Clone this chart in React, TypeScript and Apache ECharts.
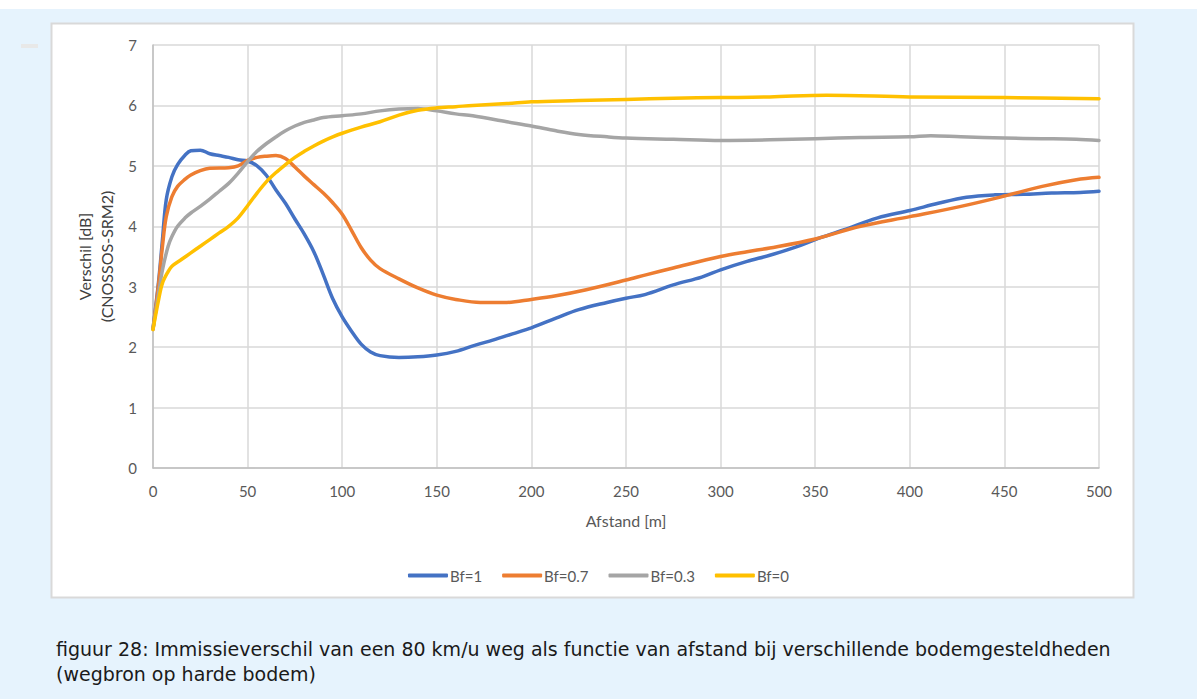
import React, { useEffect, useRef } from "react";
import * as echarts from "echarts";

// Distance (m) and level difference (dB) for each ground factor
const bf1X = [0, 3, 5, 7, 10, 13, 17, 20, 25, 30, 35, 40, 45, 50, 55, 60, 65, 70, 75, 80, 85, 90, 95, 100, 105, 110, 115, 120, 130, 140, 150, 160, 170, 180, 190, 200, 213, 225, 240, 250, 260, 275, 290, 300, 314, 326, 340, 350, 365, 383, 400, 415, 430, 445, 460, 475, 490, 500];
const bf1Y = [2.3, 3.1, 3.78, 4.44, 4.82, 5.02, 5.18, 5.25, 5.26, 5.2, 5.17, 5.14, 5.1, 5.08, 5.0, 4.84, 4.6, 4.38, 4.12, 3.87, 3.58, 3.2, 2.8, 2.5, 2.26, 2.05, 1.92, 1.86, 1.83, 1.84, 1.87, 1.93, 2.03, 2.12, 2.22, 2.32, 2.48, 2.62, 2.74, 2.81, 2.87, 3.03, 3.16, 3.28, 3.42, 3.52, 3.66, 3.78, 3.94, 4.14, 4.26, 4.38, 4.48, 4.52, 4.53, 4.55, 4.56, 4.58];

const bf07X = [0, 3, 5, 7, 10, 13, 17, 20, 25, 30, 40, 45, 50, 55, 60, 65, 70, 75, 80, 85, 90, 95, 100, 105, 110, 115, 120, 130, 140, 150, 160, 173, 187, 200, 213, 229, 250, 261, 275, 300, 314, 326, 350, 374, 400, 427, 450, 470, 488, 500];
const bf07Y = [2.3, 3.06, 3.67, 4.16, 4.49, 4.66, 4.78, 4.85, 4.92, 4.96, 4.97, 5.0, 5.09, 5.14, 5.16, 5.17, 5.12, 4.98, 4.83, 4.69, 4.55, 4.39, 4.2, 3.93, 3.65, 3.44, 3.3, 3.13, 2.98, 2.86, 2.79, 2.74, 2.74, 2.79, 2.85, 2.95, 3.11, 3.2, 3.31, 3.5, 3.58, 3.64, 3.79, 4.0, 4.16, 4.33, 4.5, 4.66, 4.77, 4.81];

const bf03X = [0, 3, 5, 8, 10, 13, 17, 20, 25, 30, 35, 40, 45, 50, 55, 60, 65, 70, 75, 80, 85, 90, 100, 110, 120, 130, 140, 150, 160, 169, 187, 200, 213, 225, 240, 250, 275, 300, 326, 350, 374, 400, 411, 427, 450, 470, 488, 500];
const bf03Y = [2.3, 2.9, 3.28, 3.67, 3.83, 4.0, 4.14, 4.22, 4.33, 4.45, 4.58, 4.71, 4.88, 5.07, 5.24, 5.37, 5.48, 5.58, 5.66, 5.72, 5.76, 5.8, 5.83, 5.86, 5.91, 5.94, 5.95, 5.91, 5.86, 5.83, 5.73, 5.66, 5.58, 5.52, 5.48, 5.46, 5.44, 5.42, 5.43, 5.45, 5.47, 5.48, 5.5, 5.48, 5.46, 5.45, 5.44, 5.42];

const bf0X = [0, 3, 5, 8, 10, 15, 20, 25, 30, 35, 40, 45, 50, 55, 60, 65, 70, 75, 80, 85, 90, 95, 100, 110, 120, 130, 140, 150, 160, 169, 187, 200, 225, 250, 275, 300, 326, 356, 400, 450, 500];
const bf0Y = [2.29, 2.79, 3.06, 3.25, 3.34, 3.45, 3.56, 3.67, 3.78, 3.89, 4.0, 4.14, 4.34, 4.55, 4.74, 4.89, 5.02, 5.14, 5.24, 5.33, 5.41, 5.48, 5.54, 5.64, 5.73, 5.84, 5.92, 5.96, 5.98, 6.0, 6.03, 6.06, 6.08, 6.1, 6.12, 6.13, 6.14, 6.17, 6.14, 6.13, 6.11];

const seriesNames = ["Bf=1", "Bf=0.7", "Bf=0.3", "Bf=0"];
const seriesColors = ["#4472C4", "#ED7D31", "#A5A5A5", "#FFC000"];
const xTicks = [0, 500, 50];
const yTicks = [0, 7, 1];

const captionLine1 =
  "figuur 28: Immissieverschil van een 80 km/u weg als functie van afstand bij verschillende bodemgesteldheden";
const captionLine2 = "(wegbron op harde bodem)";

const chartFont = "Lato, 'Liberation Sans', sans-serif";
const captionFont = "19px 'DejaVu Sans', sans-serif";

function pairs(xs: number[], ys: number[]) {
  return xs.map((x, i) => [x, ys[i]]);
}

export default function App() {
  const ref = useRef<HTMLDivElement>(null);

  useEffect(() => {
    document.body.style.margin = "0";
    if (!ref.current) return;
    const chart = echarts.init(ref.current, undefined, { renderer: "svg" });
    const data = [pairs(bf1X, bf1Y), pairs(bf07X, bf07Y), pairs(bf03X, bf03Y), pairs(bf0X, bf0Y)];

    chart.setOption({
      animation: false,
      backgroundColor: "#ffffff",
      graphic: [
        { type: "rect", z: -10, shape: { x: 0, y: 9, width: 1197, height: 690 }, style: { fill: "#E6F3FD" }, silent: true },
        { type: "rect", z: -9, shape: { x: 51.5, y: 23.5, width: 1082, height: 574 }, style: { fill: "#ffffff", stroke: "#D9D9D9", lineWidth: 2 }, silent: true },
        { type: "rect", z: -8, shape: { x: 21, y: 44, width: 17, height: 4 }, style: { fill: "#E8E8E8" }, silent: true },
        { type: "text", left: 56, top: 639, style: { text: captionLine1, font: captionFont, fill: "#1a1a1a" } },
        { type: "text", left: 56, top: 664, style: { text: captionLine2, font: captionFont, fill: "#1a1a1a" } },
      ],
      grid: { left: 153, right: 98, top: 45, bottom: 231, containLabel: false },
      legend: {
        data: seriesNames.map((name) => ({ name, icon: "roundRect" })),
        left: "center",
        top: 563,
        itemWidth: 40,
        itemHeight: 4,
        itemGap: 20,
        textStyle: { fontFamily: chartFont, fontSize: 15, color: "#595959", padding: [0, 0, 0, -3] },
      },
      xAxis: {
        type: "value",
        min: xTicks[0],
        max: xTicks[1],
        interval: xTicks[2],
        name: "Afstand [m]",
        nameLocation: "middle",
        nameGap: 44,
        nameTextStyle: { fontFamily: chartFont, fontSize: 16, color: "#595959" },
        axisLine: { lineStyle: { color: "#BFBFBF", width: 1.5 } },
        axisTick: { show: false },
        axisLabel: { fontFamily: chartFont, fontSize: 15, color: "#595959", margin: 15 },
        splitLine: { show: true, lineStyle: { color: "#D9D9D9", width: 1.5 } },
      },
      yAxis: {
        type: "value",
        min: yTicks[0],
        max: yTicks[1],
        interval: yTicks[2],
        name: "Verschil [dB]\n(CNOSSOS-SRM2)",
        nameLocation: "middle",
        nameRotate: 90,
        nameGap: 34,
        nameTextStyle: { fontFamily: chartFont, fontSize: 16, color: "#404040", lineHeight: 22 },
        axisLine: { show: true, lineStyle: { color: "#BFBFBF", width: 1.5 } },
        axisTick: { show: false },
        axisLabel: { fontFamily: chartFont, fontSize: 15, color: "#595959", margin: 16 },
        splitLine: { show: true, lineStyle: { color: "#D9D9D9", width: 1.5 } },
      },
      series: seriesNames.map((name, i) => ({
        name,
        type: "line",
        data: data[i],
        smooth: 0.35,
        symbol: "none",
        showSymbol: false,
        color: seriesColors[i],
        itemStyle: { color: seriesColors[i] },
        lineStyle: { color: seriesColors[i], width: 3.5, cap: "round", join: "round" },
        z: 2 + i,
      })),
    });

    return () => chart.dispose();
  }, []);

  return <div ref={ref} style={{ width: 1197, height: 699 }} />;
}
